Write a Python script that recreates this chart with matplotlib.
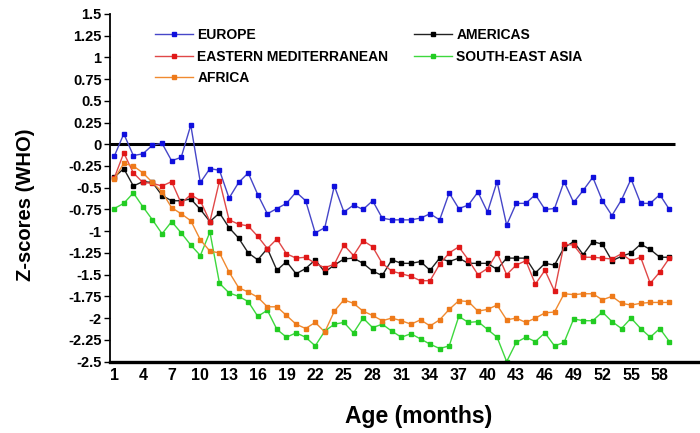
import numpy as np
import matplotlib
matplotlib.use("Agg")
import matplotlib.pyplot as plt

# Z-scores (WHO) por edad y region
meses = np.arange(1, 60)

europe = [-0.14, 0.12, -0.13, -0.11, -0.01, 0.01, -0.19, -0.15, 0.22, -0.44,
          -0.28, -0.30, -0.62, -0.44, -0.33, -0.58, -0.80, -0.74, -0.68, -0.55,
          -0.65, -1.02, -0.96, -0.48, -0.78, -0.70, -0.75, -0.65, -0.85, -0.87,
          -0.87, -0.87, -0.85, -0.80, -0.87, -0.56, -0.74, -0.70, -0.55, -0.78,
          -0.43, -0.93, -0.68, -0.68, -0.58, -0.75, -0.74, -0.43, -0.67, -0.53,
          -0.38, -0.65, -0.82, -0.64, -0.40, -0.68, -0.68, -0.58, -0.75]

americas = [-0.38, -0.28, -0.48, -0.43, -0.44, -0.59, -0.65, -0.65, -0.63, -0.75,
            -0.89, -0.79, -0.96, -1.08, -1.25, -1.33, -1.20, -1.45, -1.35, -1.49,
            -1.43, -1.33, -1.47, -1.39, -1.32, -1.31, -1.37, -1.46, -1.51, -1.33,
            -1.37, -1.37, -1.35, -1.45, -1.31, -1.35, -1.31, -1.37, -1.37, -1.37,
            -1.44, -1.31, -1.31, -1.31, -1.48, -1.37, -1.39, -1.19, -1.12, -1.27,
            -1.12, -1.15, -1.34, -1.29, -1.25, -1.15, -1.21, -1.30, -1.30]

east_med = [-0.39, -0.10, -0.33, -0.44, -0.45, -0.48, -0.43, -0.68, -0.58, -0.65,
            -0.89, -0.42, -0.87, -0.92, -0.94, -1.06, -1.20, -1.09, -1.26, -1.31,
            -1.30, -1.37, -1.42, -1.38, -1.16, -1.28, -1.11, -1.18, -1.37, -1.46,
            -1.49, -1.52, -1.57, -1.57, -1.38, -1.25, -1.18, -1.33, -1.50, -1.43,
            -1.25, -1.50, -1.39, -1.34, -1.61, -1.45, -1.69, -1.15, -1.16, -1.30,
            -1.30, -1.31, -1.32, -1.26, -1.34, -1.30, -1.60, -1.47, -1.31]

se_asia = [-0.74, -0.68, -0.56, -0.72, -0.87, -1.03, -0.89, -1.02, -1.16, -1.28,
           -1.01, -1.60, -1.71, -1.75, -1.81, -1.98, -1.91, -2.13, -2.22, -2.17,
           -2.22, -2.32, -2.15, -2.07, -2.05, -2.17, -2.00, -2.11, -2.07, -2.15,
           -2.22, -2.18, -2.24, -2.30, -2.35, -2.32, -1.98, -2.05, -2.04, -2.13,
           -2.22, -2.50, -2.28, -2.22, -2.27, -2.17, -2.32, -2.28, -2.01, -2.03,
           -2.03, -1.93, -2.04, -2.12, -2.00, -2.12, -2.22, -2.12, -2.27]

africa = [-0.40, -0.22, -0.25, -0.33, -0.44, -0.55, -0.73, -0.80, -0.88, -1.10,
          -1.23, -1.25, -1.47, -1.65, -1.70, -1.76, -1.87, -1.87, -1.97, -2.07,
          -2.12, -2.05, -2.16, -1.92, -1.79, -1.83, -1.92, -1.97, -2.03, -2.00,
          -2.03, -2.07, -2.02, -2.09, -2.02, -1.90, -1.80, -1.81, -1.92, -1.90,
          -1.85, -2.02, -2.00, -2.05, -2.00, -1.94, -1.93, -1.72, -1.73, -1.72,
          -1.72, -1.79, -1.75, -1.83, -1.85, -1.83, -1.82, -1.82, -1.82]

x_ticks = np.arange(1, 59, 3)
y_ticks = np.arange(-2.5, 1.51, 0.25)

plt.rcParams['font.family'] = ['Liberation Sans', 'DejaVu Sans']
plt.rcParams['font.weight'] = 'bold'

fig = plt.figure(figsize=(7, 4.33), dpi=100)
ax = fig.add_axes([0.157, 0.165, 0.843, 0.803])

series = [
    (europe, "EUROPE", "#4646c8", "#1010dd"),
    (americas, "AMERICAS", "#222222", "#000000"),
    (east_med, "EASTERN MEDITERRANEAN", "#e04848", "#e01818"),
    (se_asia, "SOUTH-EAST ASIA", "#3ed83e", "#22cc22"),
    (africa, "AFRICA", "#f08a30", "#ee7a1a"),
]
lineas = {}
for datos, nombre, col, colm in series:
    l, = ax.plot(meses, datos, color=col, lw=1.0, marker='s', ms=2.4,
                 mfc=colm, mec=colm, label=nombre)
    lineas[nombre] = l

# linea del cero
ax.hlines(0, 0.55, 59.6, color='black', lw=2.2, zorder=1)

ax.set_xlim(0.55, 62.2)
ax.set_ylim(-2.5, 1.5)
ax.set_xticks(x_ticks)
ax.set_xticklabels([str(v) for v in x_ticks], fontsize=11.5, fontweight='bold')
ax.set_yticks(y_ticks)
ax.set_yticklabels([f"{v:g}" for v in y_ticks], fontsize=10.5, fontweight='bold')
ax.tick_params(axis='x', length=0, pad=5)
ax.tick_params(axis='y', length=4, width=1, direction='out', pad=2)

for s in ['top', 'right']:
    ax.spines[s].set_visible(False)
ax.spines['left'].set_linewidth(1.3)
ax.spines['bottom'].set_linewidth(2.4)

ax.set_ylabel("Z-scores (WHO)", fontsize=14.5, fontweight='bold')
ax.yaxis.set_label_coords(-0.143, 0.451)
ax.yaxis.label.set_va('center')
ax.set_xlabel("Age (months)", fontsize=16.5, fontweight='bold')
ax.xaxis.set_label_coords(0.524, -0.159)
ax.xaxis.label.set_va('center')

orden = ["EUROPE", "EASTERN MEDITERRANEAN", "AFRICA", "AMERICAS", "SOUTH-EAST ASIA"]
ax.legend([lineas[n] for n in orden], orden, ncol=2, frameon=False,
          loc='upper left', bbox_to_anchor=(155 / 700, 1 - 28 / 433),
          bbox_transform=fig.transFigure, borderpad=0, borderaxespad=0,
          handlelength=2.7, handletextpad=0.35, columnspacing=1.85,
          labelspacing=0.55, prop={'size': 10, 'weight': 'bold'})

fig.savefig("out.png", dpi=100)
